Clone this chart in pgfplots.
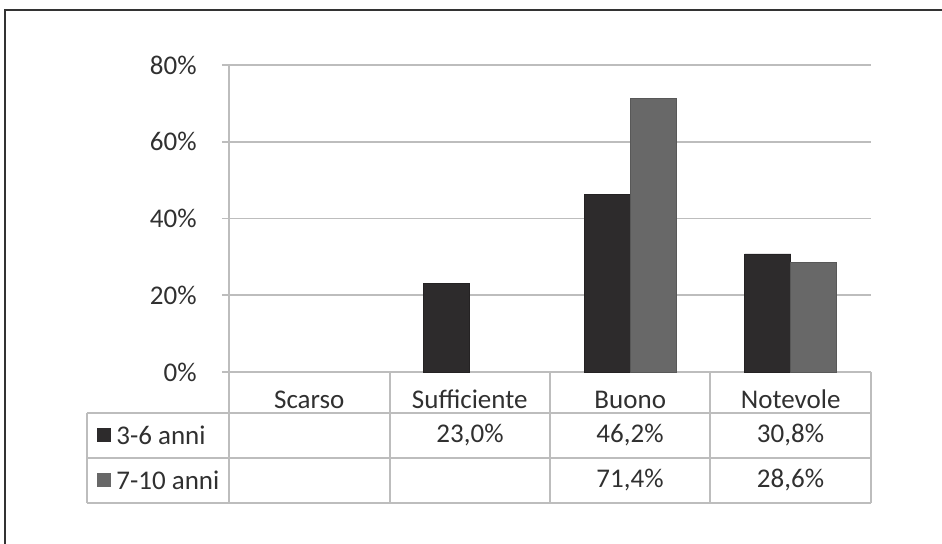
\documentclass[border=0pt]{standalone}
\usepackage{fontspec}
\setmainfont{Carlito}
\usepackage{pgfplots}
\pgfplotsset{compat=1.18}
\definecolor{darkbar}{HTML}{2D2B2C}
\definecolor{graybar}{HTML}{686868}
\definecolor{gridc}{HTML}{BDBDBD}
\definecolor{txt}{HTML}{303030}
\definecolor{framec}{HTML}{333333}
\begin{document}
\fontsize{13.5}{16}\selectfont
\begin{tikzpicture}
\begin{axis}[
  at={(0,0)}, anchor=south west,
  scale only axis,
  width=321pt, height=153.5pt,
  ybar=0pt, bar width=23pt,
  xmin=-0.5, xmax=3.5,
  ymin=0, ymax=80,
  ytick={0,20,40,60,80},
  yticklabel={\pgfmathprintnumber{\tick}\%},
  /pgf/number format/assume math mode=true,
  xtick={0,1,2,3},
  xticklabels={Scarso,Sufficiente,Buono,Notevole},
  xtick style={draw=none},
  xticklabel style={anchor=center, inner sep=0pt, yshift=-10.25pt, text=txt, font=\fontsize{13.5}{16}\selectfont},
  yticklabel style={anchor=east, inner sep=0pt, xshift=-12.5pt, text=txt, font=\fontsize{13.5}{16}\selectfont},
  tick align=outside,
  major tick length=3.5pt,
  ytick style={gridc, line width=0.75pt},
  axis x line*=bottom,
  axis y line*=left,
  axis line style={gridc, line width=0.75pt, -},
  ymajorgrids,
  major grid style={gridc, line width=0.75pt},
  clip=false,
]
\addplot[fill=darkbar, draw=darkbar!80!black, line width=0.3pt] coordinates {(1,23.0) (2,46.2) (3,30.8)};
\addplot[fill=graybar, draw=graybar!85!black, line width=0.3pt] coordinates {(2,71.4) (3,28.6)};
\end{axis}
\begin{scope}[x=0.5pt, y=-0.5pt, shift={(-229,-372)}]
  % bounding box = 942 x 544 pixels
  \path[use as bounding box] (0,0) rectangle (942,544);
  % outer frame (top and left visible)
  \draw[framec, line width=0.75pt] (5,544) -- (5,10) -- (942,10);
  % table lines
  \begin{scope}[gridc, line width=0.75pt]
    \draw (87,413) -- (871,413);
    \draw (87,458) -- (871,458);
    \draw (87,503) -- (871,503);
    \draw (87,413) -- (87,503);
    \draw (229,372) -- (229,503);
    \draw (390,372) -- (390,503);
    \draw (550,372) -- (550,503);
    \draw (710,372) -- (710,503);
    \draw (871,372) -- (871,503);
  \end{scope}
  % legend keys
  \fill[darkbar] (97,428.5) rectangle (111,442.5);
  \fill[graybar] (97,473.5) rectangle (111,487.5);
  \begin{scope}[every node/.style={text=txt, inner sep=0pt, font=\fontsize{13.5}{16}\selectfont}]
    \node[anchor=west] at (116,435.5) {3-6 anni};
    \node[anchor=west] at (116,480.5) {7-10 anni};
    \node at (470,435.5) {23,0\%};
    \node at (630,435.5) {46,2\%};
    \node at (790.5,435.5) {30,8\%};
    \node at (630,480.5) {71,4\%};
    \node at (790.5,480.5) {28,6\%};
  \end{scope}
\end{scope}
\end{tikzpicture}
\end{document}
